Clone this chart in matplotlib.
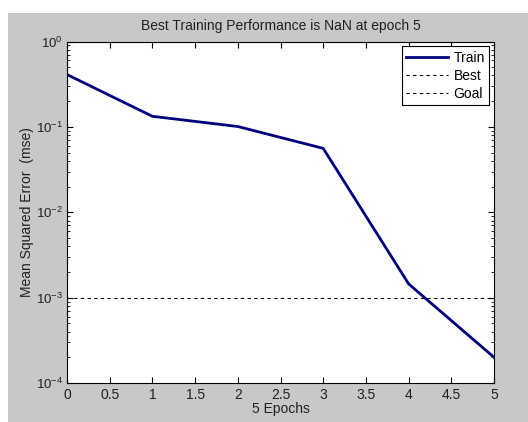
import numpy as np
import matplotlib.pyplot as plt
from matplotlib.patches import Rectangle
from matplotlib.ticker import FixedLocator

# values
epochs = [0, 1, 2, 3, 4, 5]
train_mse = [0.41, 0.133, 0.101, 0.056, 0.00145, 0.0002]
goal = 1e-3
best_epoch = 5
y_ticks = [1e-4, 1e-3, 1e-2, 1e-1, 1e0]
y_labels = [r'$10^{-4}$', r'$10^{-3}$', r'$10^{-2}$', r'$10^{-1}$', r'$10^{0}$']
x_ticks = [0, 0.5, 1, 1.5, 2, 2.5, 3, 3.5, 4, 4.5, 5]
x_labels = ['0', '0.5', '1', '1.5', '2', '2.5', '3', '3.5', '4', '4.5', '5']

plt.rcParams['font.family'] = ['Liberation Sans', 'DejaVu Sans']
plt.rcParams['mathtext.fontset'] = 'custom'
plt.rcParams['mathtext.rm'] = 'Liberation Sans'
plt.rcParams['mathtext.it'] = 'Liberation Sans'
plt.rcParams['font.size'] = 10

W, H = 528, 422
fig = plt.figure(figsize=(W / 100, H / 100), dpi=100, facecolor='white')
# MATLAB grey window area (white strip left and top)
fig.patches.append(Rectangle((8 / W, 0), 1, 1 - 13 / H, transform=fig.transFigure,
                             facecolor='#c8c8c8', edgecolor='none', zorder=-10))

ax = fig.add_axes([67 / W, 1 - 383 / H, (494 - 67) / W, (383 - 41.5) / H])
ax.set_facecolor('white')

ax.plot(epochs, train_mse, color='#00007f', lw=2, label='Train')
ax.plot([], [], color='black', lw=0.8, ls=(0, (3, 3)), label='Best')
ax.axhline(goal, color='black', lw=0.8, ls=(0, (3, 3)), label='Goal')

ax.set_yscale('log')
ax.set_xlim(0, 5)
ax.set_ylim(1e-4, 1)
ax.xaxis.set_major_locator(FixedLocator(x_ticks))
ax.set_xticklabels(x_labels)
minors = [m * 10.0 ** e for e in range(-4, 0) for m in range(2, 10)]
ax.yaxis.set_major_locator(FixedLocator(y_ticks))
ax.yaxis.set_minor_locator(FixedLocator(minors))
ax.set_yticklabels(y_labels)
ax.tick_params(which='both', direction='in', top=True, right=True, labelsize=10,
               colors='black', labelcolor='#202020')
ax.tick_params(axis='y', labelsize=9.5, pad=3)
ax.tick_params(which='major', length=4, width=0.8)
ax.tick_params(which='minor', length=2, width=0.6)
for s in ax.spines.values():
    s.set_linewidth(0.8)

ax.set_title('Best Training Performance is NaN at epoch %d' % best_epoch, fontsize=10, pad=8,
             color='#202020')
ax.set_xlabel('%d Epochs' % best_epoch, fontsize=10, labelpad=0, color='#202020')
ax.set_ylabel('Mean Squared Error  (mse)', fontsize=10, color='#202020')
ax.yaxis.set_label_coords(-33 / 427, 0.5)

leg = ax.legend(loc='upper right', fancybox=False, edgecolor='black', framealpha=1,
                handlelength=3.0, borderaxespad=0.35, fontsize=10, labelspacing=0.3,
                borderpad=0.3, handletextpad=0.4)
leg.get_frame().set_linewidth(0.8)

fig.savefig('out.png', dpi=100, facecolor=fig.get_facecolor())
